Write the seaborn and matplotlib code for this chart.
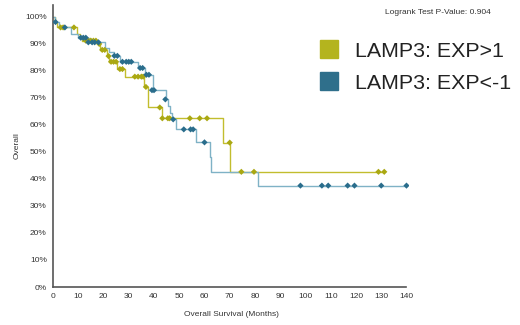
import matplotlib
matplotlib.use("Agg")
import matplotlib.pyplot as plt
import seaborn as sns
import pandas as pd
from matplotlib.lines import Line2D

# ---- data ----
hi_times = [0, 0.8, 1.5, 9.6, 10.5, 11.5, 17.9, 18.8, 21.5, 22.3, 25.5, 28.5, 36, 37.7, 43, 67.3, 70, 131.2]
hi_surv = [100, 98, 96, 93.5, 92, 91.1, 89.9, 87.7, 85.4, 83.3, 80.6, 77.8, 74, 66.4, 62.4, 53.4, 42.6, 42.6]
hi_cens_t = [3, 4, 8.3, 13, 14, 15, 16, 17, 18.3, 19.5, 20.5, 22, 23, 24, 25, 26.5, 27.5, 32.4, 33.7, 35, 35.7,
             36.8, 42.3, 43.3, 45.5, 46.2, 54.2, 58.1, 61, 70, 74.6, 79.6, 128.9, 131.2]
hi_cens_s = [96, 96, 96, 91.1, 91.1, 91.1, 91.1, 91.1, 89.9, 87.7, 87.7, 85.4, 83.3, 83.3, 83.3, 80.6, 80.6,
             77.8, 77.8, 77.8, 77.8, 74, 66.4, 62.4, 62.4, 62.4, 62.4, 62.4, 62.4, 53.4, 42.6, 42.6, 42.6, 42.6]

lo_times = [0, 0.8, 2.5, 7, 10, 14.5, 20.5, 22, 24, 26.5, 33.7, 36.4, 39.7, 44.8, 45.5, 46.3, 47.2, 48.9, 56.8,
            62, 62.7, 81, 140]
lo_surv = [100, 98, 96, 93.5, 92.2, 90.5, 88.5, 87, 85.5, 83.3, 81, 78.5, 72.8, 69.4, 66.9, 64.2, 62, 58.3,
           53.5, 48, 42.6, 37.5, 37.5]
lo_cens_t = [1, 4.7, 11, 12, 13, 14, 15.5, 16.5, 18, 24.3, 25.5, 27.5, 29, 30, 31, 34.5, 35.5, 37, 38, 39.2,
             40, 44.5, 47.6, 51.8, 54.5, 55.5, 60, 98, 106.5, 109, 116.7, 119.4, 130, 140]
lo_cens_s = [98, 96, 92.2, 92.2, 92.2, 90.5, 90.5, 90.5, 90.5, 85.5, 85.5, 83.3, 83.3, 83.3, 83.3, 81, 81,
             78.5, 78.5, 72.8, 72.8, 69.4, 62, 58.3, 58.3, 58.3, 53.5, 37.5, 37.5, 37.5, 37.5, 37.5, 37.5, 37.5]

groups = ["LAMP3: EXP>1", "LAMP3: EXP<-1"]
x_ticks = list(range(0, 141, 10))
y_ticks = list(range(0, 101, 10))

line_df = pd.concat([
    pd.DataFrame({"t": hi_times, "s": hi_surv, "g": groups[0]}),
    pd.DataFrame({"t": lo_times, "s": lo_surv, "g": groups[1]}),
])
cens_df = pd.concat([
    pd.DataFrame({"t": hi_cens_t, "s": hi_cens_s, "g": groups[0]}),
    pd.DataFrame({"t": lo_cens_t, "s": lo_cens_s, "g": groups[1]}),
])

line_pal = {groups[0]: "#c2bd2e", groups[1]: "#7fb2c6"}
mark_pal = {groups[0]: "#aaa812", groups[1]: "#2a6d8c"}
leg_pal = {groups[0]: "#b4b41e", groups[1]: "#2f6f8b"}

sns.set_style("white")
plt.rcParams["font.family"] = ["Liberation Sans", "DejaVu Sans"]

fig = plt.figure(figsize=(5.2, 3.25), dpi=100)
ax = fig.add_axes([53 / 520, 1 - 287 / 325, (409 - 53) / 520, (287 - 5) / 325])

sns.lineplot(data=line_df, x="t", y="s", hue="g", palette=line_pal, estimator=None, sort=False,
             drawstyle="steps-post", linewidth=1.0, legend=False, ax=ax)
sns.scatterplot(data=cens_df, x="t", y="s", hue="g", palette=mark_pal, marker="D", s=10,
                linewidth=0, legend=False, ax=ax, zorder=3)

ax.set_xlim(0, 141)
ax.set_ylim(0, 104.3)
ax.set_xticks(x_ticks)
ax.set_yticks(y_ticks)
ax.set_yticklabels([f"{v}%" for v in y_ticks])
ax.tick_params(axis="both", labelsize=6, length=3, width=0.8, pad=1.5, direction="out",
               colors="#444444", labelcolor="#333333")
for side in ["top", "right"]:
    ax.spines[side].set_visible(False)
for side in ["left", "bottom"]:
    ax.spines[side].set_color("#555555")
    ax.spines[side].set_linewidth(1.2)
ax.spines["bottom"].set_bounds(0, 140)
ax.set_xlabel("Overall Survival (Months)", fontsize=6, color="#333333", labelpad=8)
ax.set_ylabel("Overall", fontsize=6, color="#333333", labelpad=3)

handles = [Line2D([], [], marker="s", linestyle="none", markersize=13, color=leg_pal[g]) for g in groups]
fig.legend(handles, groups, loc="upper left", bbox_to_anchor=(310 / 520, 1 - 33 / 325), frameon=False,
           fontsize=15.4, handletextpad=0.7, labelspacing=0.62, borderaxespad=0, handlelength=1.0,
           labelcolor="#222222")
fig.text(385 / 520, 1 - 12 / 325, "Logrank Test P-Value: 0.904", fontsize=6, color="#333333",
         va="center", ha="left")

fig.savefig("out.png", dpi=100)
